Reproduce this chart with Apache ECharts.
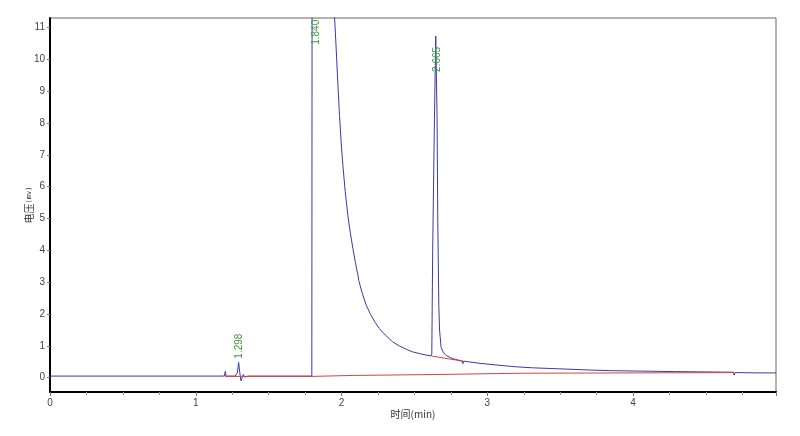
<!DOCTYPE html>
<html>
<head>
<meta charset="utf-8">
<title>chromatogram</title>
<script src="https://cdn.jsdelivr.net/npm/echarts@6/dist/echarts.min.js"></script>
<style>
  html, body { margin: 0; padding: 0; background: #fff; }
  #main { width: 800px; height: 436px; }
</style>
</head>
<body>
<div id="main"></div>
<script>
// detector signal (blue)
var signalTime = [0, 1.195, 1.203, 1.207, 1.215, 1.27, 1.285, 1.294, 1.302, 1.31, 1.318, 1.326, 1.334, 1.342, 1.36,
  1.796, 1.799, 1.84, 1.9, 1.935, 1.952, 1.958, 1.963, 1.975, 1.986, 1.997, 2.009, 2.025, 2.043, 2.06, 2.078,
  2.095, 2.105, 2.112, 2.118, 2.14, 2.169, 2.2, 2.23, 2.26, 2.3, 2.351, 2.4, 2.45, 2.488, 2.55, 2.614,
  2.619, 2.625, 2.637, 2.646, 2.655, 2.66, 2.667, 2.672, 2.683, 2.7, 2.717, 2.76, 2.83, 2.832, 2.836,
  2.95, 3.08, 3.2, 3.31, 3.42, 3.54, 3.7, 3.85, 4.0, 4.15, 4.3, 4.5, 4.69, 4.692, 4.7, 4.85, 4.98];
var signalValue = [0.05, 0.05, 0.2, 0.05, 0.05, 0.05, 0.15, 0.48, 0.15, -0.1, 0.0, 0.1, 0.02, 0.06, 0.05,
  0.05, 20, 30, 20, 13.5, 11.3, 10.8, 10.33, 9.2, 8.24, 7.4, 6.67, 5.85, 5.1, 4.55, 4.05,
  3.62, 3.38, 3.25, 3.05, 2.68, 2.28, 1.98, 1.74, 1.54, 1.34, 1.12, 0.99, 0.88, 0.81, 0.74, 0.68,
  0.75, 4.0, 8.1, 10.73, 8.2, 4.9, 2.3, 1.5, 0.95, 0.78, 0.7, 0.6, 0.52, 0.44, 0.52,
  0.45, 0.39, 0.34, 0.31, 0.29, 0.27, 0.24, 0.22, 0.21, 0.2, 0.19, 0.18, 0.17, 0.08, 0.16, 0.15, 0.15];

// integration baseline (red), null = gap
var baseTime = [1.2, 1.797, 2.076, 2.076, 2.66, 2.66, 3.24, 3.25, 4.69, 4.69, 2.619, 2.83];
var baseValue = [0.04, 0.04, 0.07, 0.09, 0.1, 0.13, 0.14, 0.16, 0.16, null, 0.68, 0.52];

// peak retention time labels
var peakLabel = ['1.298', '1.840', '2.665'];
var peakLabelX = [1.295, 1.826, 2.655];
var peakLabelY = [0.99, 10.85, 10.0];

var yTicks = [0, 1, 2, 3, 4, 5, 6, 7, 8, 9, 10, 11];

var myChart = echarts.init(document.getElementById('main'));

var signal = signalTime.map(function (t, i) { return [t, signalValue[i]]; });
var base = baseTime.map(function (t, i) { return [t, baseValue[i]]; });

var option = {
  animation: false,
  textStyle: { fontFamily: 'Liberation Sans, Arial, Noto Sans CJK SC, sans-serif' },
  grid: {
    left: 50, right: 24, top: 18, bottom: 44,
    show: true, borderColor: '#666', borderWidth: 1
  },
  xAxis: {
    type: 'value',
    min: 0,
    max: 4.98,
    interval: 1,
    name: '时间(min)',
    nameLocation: 'middle',
    nameGap: 17,
    nameMoveOverlap: false,
    nameTextStyle: { fontSize: 10, color: '#333', fontFamily: 'Noto Sans CJK SC, monospace' },
    axisLine: { onZero: false, lineStyle: { color: '#000', width: 2 } },
    axisTick: { show: true, length: 4, lineStyle: { color: '#777' } },
    minorTick: { show: true, splitNumber: 4, length: 3, lineStyle: { color: '#999' } },
    axisLabel: { fontSize: 10, color: '#444', margin: 6, showMaxLabel: false },
    splitLine: { show: false }
  },
  yAxis: {
    type: 'value',
    min: -0.45,
    max: 11.3,
    name: '{a|电压}{b|(mv)}',
    nameLocation: 'middle',
    nameGap: 16,
    nameMoveOverlap: false,
    nameTextStyle: {
      rich: {
        a: { fontSize: 10, color: '#333', fontFamily: 'Noto Sans CJK SC' },
        b: { fontSize: 7, color: '#333', fontFamily: 'monospace' }
      }
    },
    axisLine: { onZero: false, lineStyle: { color: '#000', width: 2 } },
    axisTick: { show: true, length: 3, customValues: yTicks, lineStyle: { color: '#777' } },
    axisLabel: { fontSize: 10, color: '#444', margin: 5, customValues: yTicks },
    splitLine: { show: false }
  },
  series: [
    {
      name: 'signal',
      type: 'line',
      data: signal,
      symbol: 'none',
      clip: true,
      lineStyle: { color: '#3a3aa6', width: 1 },
      markPoint: {
        symbol: 'circle',
        symbolSize: 0,
        silent: true,
        label: {
          show: true,
          position: 'inside',
          rotate: 90,
          fontSize: 10,
          color: '#3b9a3b',
          formatter: function (p) { return p.name; }
        },
        data: peakLabel.map(function (s, i) {
          return { name: s, coord: [peakLabelX[i], peakLabelY[i]] };
        })
      },
      z: 2
    },
    {
      name: 'baseline',
      type: 'line',
      data: base,
      symbol: 'none',
      connectNulls: false,
      lineStyle: { color: '#d04444', width: 1 },
      z: 3
    }
  ]
};

option && myChart.setOption(option);
</script>
</body>
</html>
